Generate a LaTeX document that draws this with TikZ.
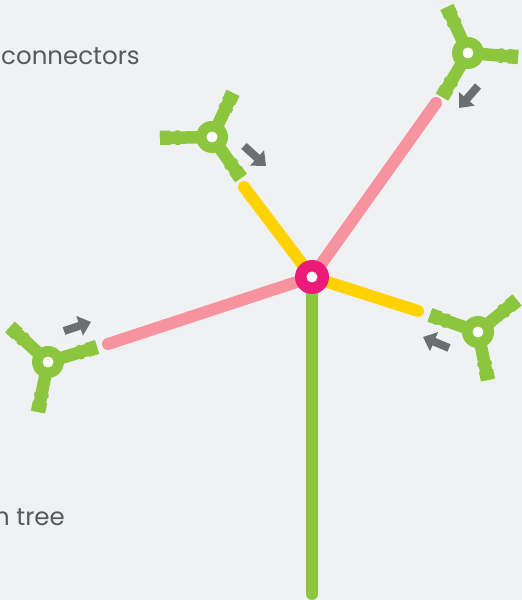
\documentclass[tikz,border=0pt]{standalone}
\usepackage{fontspec}
\setmainfont{Poppins}
\usetikzlibrary{calc,arrows.meta}
\definecolor{bg}{HTML}{F0F1F3}
\definecolor{leaf}{HTML}{8CC63F}
\definecolor{hubred}{HTML}{EC1B7A}
\definecolor{rose}{HTML}{F7939F}
\definecolor{gold}{HTML}{FFD200}
\definecolor{ink}{HTML}{6D6E71}
\definecolor{txt}{HTML}{58595B}
\def\ro{16pt}
\def\ri{5.5pt}
\def\hole{circle (\ri)}

\begin{document}
\begin{tikzpicture}[x=1pt,y=1pt]
\fill[bg] (0,0) rectangle (522,600);
\useasboundingbox (0,0) rectangle (522,600);
\coordinate (H) at (312,323);
\coordinate (S) at (312,6);
\coordinate (A) at (212,463);
\coordinate (B) at (468,547);
\coordinate (C) at (48,238);
\coordinate (D) at (478,268);
\coordinate (ya) at (244,413);
\coordinate (pb) at (436,497);
\coordinate (pc) at (108,256);
\coordinate (yd) at (418,289);
\coordinate (a1) at (233,507);
\coordinate (a2) at (160,462);
\coordinate (a3) at (241,422);
\coordinate (b1) at (447,593);
\coordinate (b2) at (518,543);
\coordinate (b3) at (442,503);
\coordinate (c1) at (10,273);
\coordinate (c2) at (97,253);
\coordinate (c3) at (38,188);
\coordinate (d1) at (430,285);
\coordinate (d2) at (517,300);
\coordinate (d3) at (488,220);

\draw[leaf, line width=12pt, line cap=round] (H) -- (S);
\draw[gold, line width=12pt, line cap=round] (H) -- (ya) (H) -- (yd);
\draw[rose, line width=12pt, line cap=round] (H) -- (pb) (H) -- (pc);
\fill[hubred] (H) circle (17pt);
\fill[white] (H) \hole;

\foreach \c/\e in {A/a1, A/a2, A/a3, B/b1, B/b2, B/b3, C/c1, C/c2, C/c3, D/d1, D/d2, D/d3}{
	\draw[leaf, line width=12.5pt] (\c) -- (\e);
	\draw[leaf, line width=14.5pt] ($(\c)!0.62!(\e)$) -- ($(\c)!0.7!(\e)$) ($(\c)!0.8!(\e)$) -- (\e);
}
\foreach \c in {A, B, C, D}{
	\fill[leaf] (\c) circle (\ro);
	\fill[white] (\c) \hole;
}

\coordinate (t1) at (244,454);
\coordinate (h1) at (266,434);
\coordinate (t2) at (478,514);
\coordinate (h2) at (459,492);
\coordinate (t3) at (64,269);
\coordinate (h3) at (91,278);
\coordinate (t4) at (449,252);
\coordinate (h4) at (423,263);
\foreach \t/\h in {t1/h1, t2/h2, t3/h3, t4/h4}{
	\draw[ink, line width=8pt, -{Triangle[length=12pt,width=20pt]}] (\t) -- (\h);
}

\node[anchor=base west, text=txt, font=\fontsize{24.5}{28}\selectfont, inner sep=0pt] (conn) at (1,535) {connectors};
\node[anchor=base west, text=txt, font=\fontsize{24.5}{28}\selectfont, inner sep=0pt] (tree) at (-6,74) {n tree};
\end{tikzpicture}
\end{document}
